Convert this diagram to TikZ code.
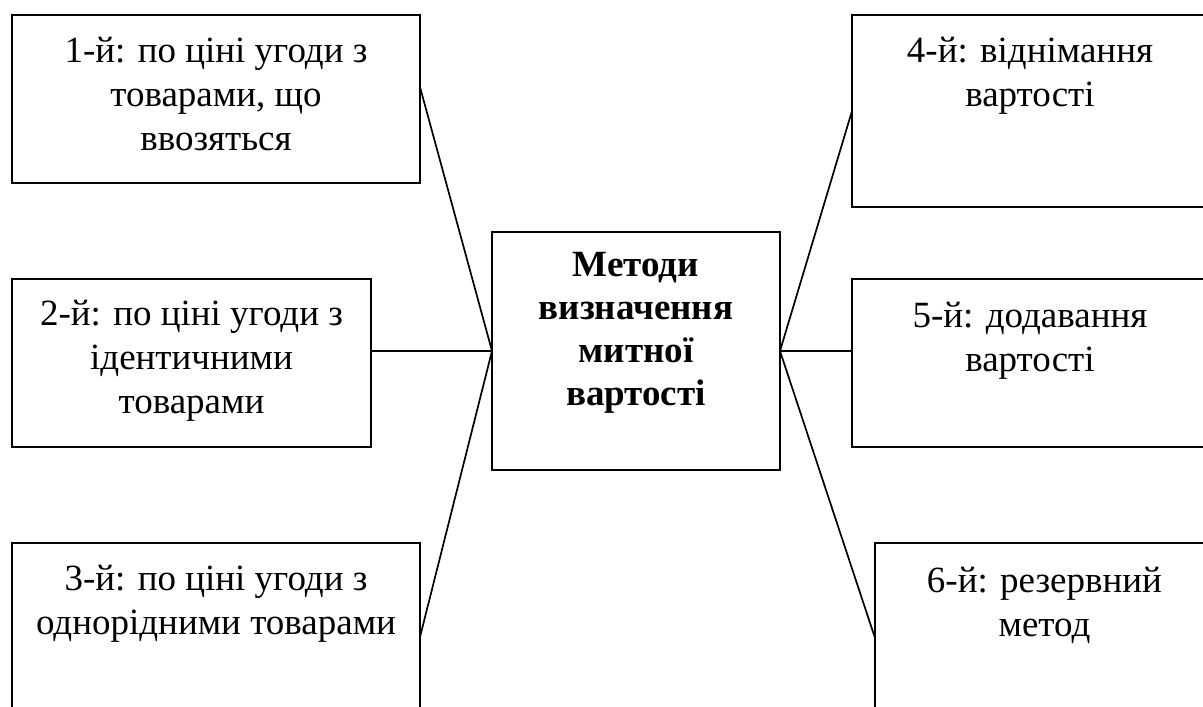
\documentclass[tikz,border=0pt]{standalone}
\usepackage{fontspec}
\setmainfont{Liberation Serif}
\begin{document}
\begin{tikzpicture}[x=1pt,y=-1pt,
  box/.style={draw=black,line width=2pt,rectangle,inner sep=0pt,outer sep=0pt},
  lbl/.style={anchor=north,align=center,inner sep=0pt,font=\fontsize{37}{44}\selectfont},
  blbl/.style={lbl,font=\fontsize{37}{43}\selectfont\bfseries},
  conn/.style={line width=1.7pt}]
\useasboundingbox (0,0) rectangle (1203,707);
\begin{scope}
\clip (0,0) rectangle (1203,707);
\node[box,minimum width=408pt,minimum height=168pt] (b1) at (216,99) {};
\node[box,minimum width=359pt,minimum height=168pt] (b2) at (191.5,363) {};
\node[box,minimum width=408pt,minimum height=168pt] (b3) at (216,627) {};
\node[box,minimum width=288pt,minimum height=238pt] (c) at (636,351) {};
\node[box,minimum width=356pt,minimum height=192pt] (b4) at (1030,111) {};
\node[box,minimum width=356pt,minimum height=168pt] (b5) at (1030,363) {};
\node[box,minimum width=339pt,minimum height=168pt] (b6) at (1044.5,627) {};

\node[lbl] (t1) at (216,31) {\strut 1-й: по ціні угоди з\\товарами, що\\ввозяться};
\node[lbl] (t2) at (191.5,294) {\strut 2-й: по ціні угоди з\\ідентичними\\товарами};
\node[lbl] (t3) at (216,559) {\strut 3-й: по ціні угоди з\\однорідними товарами};
\node[blbl] (tc) at (636,246) {\strut Методи\\визначення\\митної\\вартості};
\node[lbl] (t4) at (1030,31) {\strut 4-й: віднімання\\вартості};
\node[lbl] (t5) at (1030,296) {\strut 5-й: додавання\\вартості};
\node[lbl] (t6) at (1044.5,561) {\strut 6-й: резервний\\метод};

\draw[conn] ([yshift=12pt]b1.east) -- (c.west);
\draw[conn] (c.west) -- (c.west -| b2.east);
\draw[conn] ([yshift=-10pt]b3.east) -- (c.west);
\draw[conn] (c.east) -- (b4.west);
\draw[conn] (c.east) -- (c.east -| b5.west);
\draw[conn] (c.east) -- ([yshift=-11pt]b6.west);
\end{scope}
\end{tikzpicture}
\end{document}
